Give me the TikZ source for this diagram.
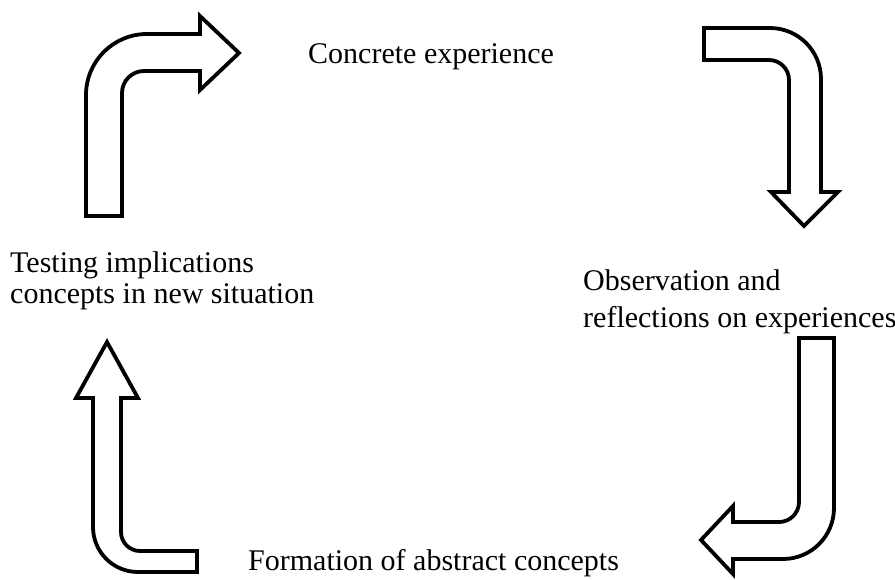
\documentclass[tikz,border=0pt]{standalone}
\usepackage{fontspec}
\setmainfont{Liberation Serif}
\begin{document}
\begin{tikzpicture}[x=1pt,y=1pt,
  bentarrow/.style={draw=black,line width=3.8pt,fill=white,line join=miter},
  label/.style={anchor=base west,inner sep=0pt,font=\fontsize{30}{36}\selectfont}]
\useasboundingbox (0,-579) rectangle (895,0);

% upper left: up, then right
\draw[bentarrow] (86,-216) -- (86,-95) arc[start angle=180,end angle=90,radius=61]
  -- (200,-34) -- (200,-16) -- (239,-53) -- (200,-90) -- (200,-71) -- (144,-71)
  arc[start angle=90,end angle=180,radius=22] -- (122,-216) -- cycle;

% upper right: right, then down
\draw[bentarrow] (704,-28) -- (770,-28) arc[start angle=90,end angle=0,radius=51]
  -- (821,-192) -- (838,-192) -- (804,-226) -- (771,-192) -- (789,-192) -- (789,-80)
  arc[start angle=0,end angle=90,radius=20] -- (704,-60) -- cycle;

% lower right: down, then left
\draw[bentarrow] (799,-338) -- (834,-338) -- (834,-508)
  arc[start angle=0,end angle=-90,radius=51] -- (733,-559) -- (733,-574) -- (701,-540)
  -- (733,-506) -- (733,-522) -- (779,-522) arc[start angle=-90,end angle=0,radius=20]
  -- cycle;

% lower left: left, then up
\draw[bentarrow] (107,-342) -- (138,-398) -- (121,-398) -- (121,-532)
  arc[start angle=180,end angle=270,radius=19] -- (197,-551) -- (197,-572) -- (138,-572)
  arc[start angle=270,end angle=180,radius=45] -- (93,-398) -- (76,-398) -- cycle;

% stage labels
\node[label] (ce) at (308,-63) {Concrete experience};
\node[label] (ob1) at (583,-290) {Observation and};
\node[label] (ob2) at (583,-327) {reflections on experiences};
\node[label] (fa) at (248,-570) {Formation of abstract concepts};
\node[label] (te1) at (10,-272) {Testing implications};
\node[label] (te2) at (10,-303) {concepts in new situation};
\end{tikzpicture}
\end{document}
